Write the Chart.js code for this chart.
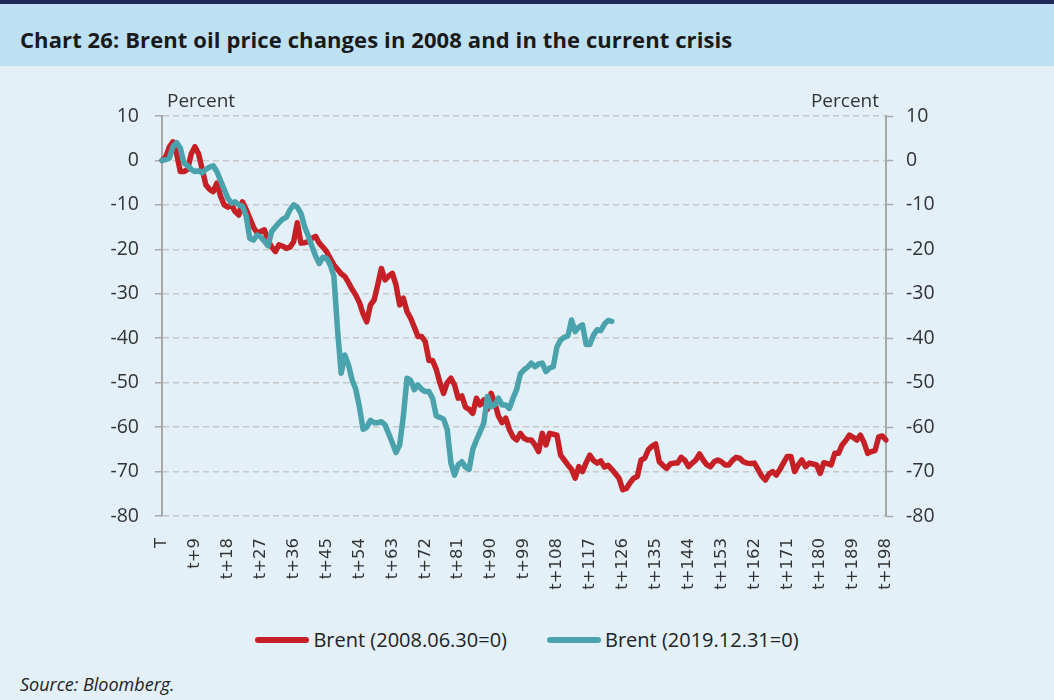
<!DOCTYPE html>
<html>
<head>
<meta charset="utf-8">
<script src="https://cdn.jsdelivr.net/npm/chart.js@4.4.0/dist/chart.umd.min.js"></script>
<style>
html, body { margin: 0; padding: 0; }
body { width: 1054px; height: 700px; background: #e3f0f7; position: relative; overflow: hidden; font-family: "Open Sans", sans-serif; }
#topline { position: absolute; left: 0; top: 0; width: 1054px; height: 4px; background: #1f2858; }
#header { position: absolute; left: 0; top: 4px; width: 1054px; height: 62px; background: #bde0f3; }
#title { position: absolute; left: 20px; top: 24px; font: bold 22px "Open Sans", sans-serif; color: #1a1a1a; white-space: nowrap; letter-spacing: 0.1px; }
#wrap { position: absolute; left: 0; top: 66px; width: 1054px; height: 559px; }
#legend { position: absolute; left: 0; top: 626px; width: 1054px; display: flex; justify-content: center; align-items: center; font-size: 20px; color: #222; }
.item { display: flex; align-items: center; margin: 0 20px; }
.swatch { width: 54px; height: 6px; border-radius: 3px; margin-right: 4px; }
#source { position: absolute; left: 20px; top: 672px; font: italic 18px "Open Sans", sans-serif; color: #222; }
</style>
</head>
<body>
<div id="topline"></div>
<div id="header"></div>
<div id="title">Chart 26: Brent oil price changes in 2008 and in the current crisis</div>
<div id="wrap"><canvas id="lineChart" width="1054" height="559"></canvas></div>
<div id="legend"></div>
<div id="source">Source: Bloomberg.</div>
<script>
const ctx = document.getElementById('lineChart');

// trading days after the start date
let days = ['T'];
for (let i = 1; i <= 198; i++) days.push('t+' + i);

const yTicks = [10, 0, -10, -20, -30, -40, -50, -60, -70, -80];

// Brent, 2008.06.30 = 0 (percent change)
const brent2008 = [
    0, 0.8, 3.0, 4.2, 1.5, -2.5, -2.5, -2.0, 1.5, 3.1,
    1.5, -2, -5.5, -6.5, -7, -5.1, -8, -10, -10.5, -10,
    -11.5, -12.3, -9.3, -11, -13, -15, -16.3, -16, -15.6, -18,
    -19.5, -20.5, -19, -19.3, -19.8, -19.5, -18.3, -14, -18.6, -18.5,
    -18.3, -17.5, -17.1, -18.6, -19.5, -20.5, -22, -23.5, -24.5, -25.5,
    -26.1, -27.5, -29, -30.3, -32, -34.5, -36.3, -32.5, -31.4, -28,
    -24.3, -26.9, -26, -25.4, -28, -32.5, -31, -34, -35.5, -37.5,
    -39.6, -39.6, -40.8, -45, -45, -47, -50, -52.4, -50, -49,
    -50.5, -53.5, -53, -55.5, -56, -56.9, -53.5, -55, -53.9, -56,
    -52.4, -54.5, -57.5, -59, -58, -60.5, -62.2, -62.9, -61.4, -62.5,
    -62.9, -62.9, -64, -65.5, -61.4, -64, -61.4, -61.6, -61.8, -66.3,
    -67.4, -68.5, -69.5, -71.5, -68.9, -70, -68, -66.3, -67.5, -68.1,
    -67.6, -69, -68.6, -69.5, -70.5, -71.5, -74.1, -73.8, -72.5, -71.5,
    -71.1, -67.4, -67, -65.1, -64.3, -63.8, -67.8, -68.6, -69.3, -68.3,
    -68.1, -68.1, -66.8, -67.5, -68.9, -68.1, -67.4, -66, -67.4, -68.5,
    -68.9, -67.8, -67.4, -67.8, -68.5, -68.5, -67.5, -66.8, -67, -67.8,
    -68.1, -68.2, -68.1, -69.5, -71, -71.9, -70.5, -70, -70.8, -69.5,
    -68, -66.6, -66.6, -70, -68.5, -67.4, -68.9, -68.1, -68.3, -68.5,
    -70.4, -68, -68.2, -68.5, -65.9, -65.9, -64, -63, -61.8, -62.3,
    -62.9, -61.8, -63.5, -65.9, -65.5, -65.3, -62.2, -62, -62.9
];

// Brent, 2019.12.31 = 0 (percent change)
const brent2019 = [
    0, 0.2, 0.5, 3.1, 4, 2.8, -0.6, -1.2, -2, -2.5,
    -2.3, -2.8, -2, -1.5, -1.2, -2.5, -4.5, -6.5, -8.5, -9.6,
    -9.3, -10, -10.3, -12.5, -17.5, -17.9, -16.8, -17.2, -18.2, -19.2,
    -16, -15, -14, -13.2, -12.8, -11.1, -10, -10.5, -11.9, -14.9,
    -17, -19.3, -21.5, -23.2, -21.8, -22, -23.5, -26, -38, -47.9,
    -43.8, -46, -49.4, -51.5, -55.5, -60.5, -60, -58.5, -59, -59,
    -58.8, -59.5, -61.5, -63.6, -65.7, -64, -57.6, -49, -49.5, -51.6,
    -50.5, -51.5, -52, -52, -53.5, -57.5, -57.8, -58.2, -60.5, -68,
    -70.8, -68.5, -67.8, -69, -69.5, -65, -62.9, -61, -59.1, -53.1,
    -55.4, -55, -53.5, -55, -55, -55.8, -53.5, -51.5, -48, -47.1,
    -46.5, -45.6, -46.4, -45.8, -45.6, -47.5, -46.7, -46.4, -42, -40.4,
    -39.8, -39.5, -35.9, -38.5, -37.5, -37, -41.4, -41.4, -39.3, -38.1,
    -38.3, -36.8, -36, -36.2
];

const seriesNames = ['Brent (2008.06.30=0)', 'Brent (2019.12.31=0)'];
const seriesColors = ['#c62027', '#4aa3ac'];

const tickFont = { family: 'Open Sans', size: 19.5 };

const percentLabels = {
    id: 'percentLabels',
    afterDraw(chart) {
        const c = chart.ctx;
        const area = chart.chartArea;
        c.save();
        c.font = '19px "Open Sans"';
        c.fillStyle = '#333';
        c.textAlign = 'left';
        c.fillText('Percent', area.left + 5, area.top - 9);
        c.textAlign = 'right';
        c.fillText('Percent', area.right - 7, area.top - 9);
        c.restore();
    }
};

var chart = {
    type: 'line',
    data: {
        labels: days,
        datasets: [{
            label: seriesNames[0],
            data: brent2008,
            borderColor: seriesColors[0],
            backgroundColor: seriesColors[0],
            borderWidth: 5.5,
            pointRadius: 0,
            tension: 0,
            borderJoinStyle: 'round',
            borderCapStyle: 'round',
            order: 2
        }, {
            label: seriesNames[1],
            data: brent2019,
            borderColor: seriesColors[1],
            backgroundColor: seriesColors[1],
            borderWidth: 5.5,
            pointRadius: 0,
            tension: 0,
            borderJoinStyle: 'round',
            borderCapStyle: 'round',
            order: 1
        }]
    },
    options: {
        responsive: false,
        animation: false,
        layout: { padding: { top: 50, left: 0, right: 0, bottom: 0 } },
        plugins: {
            legend: { display: false },
            tooltip: { enabled: false }
        },
        scales: {
            x: {
                grid: { display: false },
                border: { display: false },
                afterFit(scale) { scale.height = 109; },
                ticks: {
                    autoSkip: false,
                    maxRotation: 90,
                    minRotation: 90,
                    padding: 14,
                    color: '#333',
                    font: { family: 'DejaVu Sans', size: 16.5 },
                    callback: function(val, index) {
                        return index % 9 === 0 ? days[index] : null;
                    }
                }
            },
            y: {
                position: 'left',
                min: -80,
                max: 10,
                afterFit(scale) { scale.width = 162; },
                afterBuildTicks(scale) { scale.ticks = yTicks.map(v => ({ value: v })); },
                ticks: { padding: 16, color: '#333', font: tickFont },
                grid: { color: '#c8c8c8', lineWidth: 1.5, tickLength: 7, tickColor: '#a8a8a8', tickWidth: 1.5 },
                border: { color: '#a8a8a8', width: 2, dash: [6, 4] }
            },
            y2: {
                position: 'right',
                min: -80,
                max: 10,
                afterFit(scale) { scale.width = 168; },
                afterBuildTicks(scale) { scale.ticks = yTicks.map(v => ({ value: v })); },
                ticks: { padding: 13, color: '#333', font: tickFont },
                grid: { drawOnChartArea: false, tickLength: 7, tickColor: '#a8a8a8', tickWidth: 1.5 },
                border: { color: '#a8a8a8', width: 2 }
            }
        }
    },
    plugins: [percentLabels]
};

let chart1 = new Chart(ctx, chart);

// legend under the chart
const legend = document.getElementById('legend');
seriesNames.forEach((name, i) => {
    let item = document.createElement('div');
    item.className = 'item';
    item.innerHTML = '<span class="swatch" style="background:' + seriesColors[i] + '"></span><span>' + name + '</span>';
    legend.appendChild(item);
});
</script>
</body>
</html>
